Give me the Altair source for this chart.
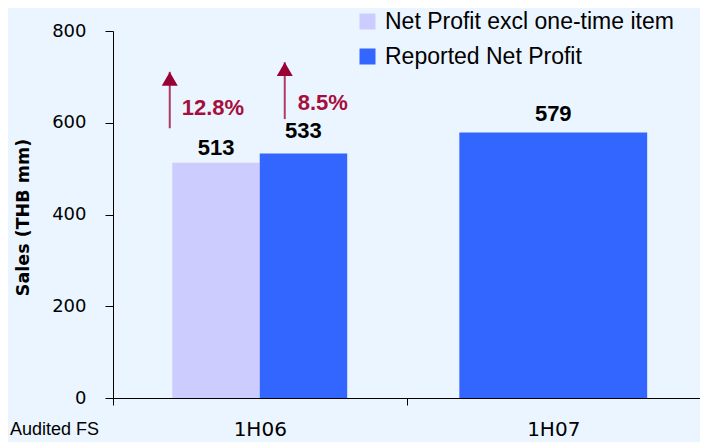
import altair as alt
import pandas as pd

# ---- data ----
periods = ["1H06", "1H06", "1H07"]
series = ["Net Profit excl one-time item", "Reported Net Profit", "Reported Net Profit"]
values = [513, 533, 579]

series_order = ["Net Profit excl one-time item", "Reported Net Profit"]
series_colors = ["#CCCCFF", "#3366FF"]
period_order = ["1H06", "1H07"]

arrow_periods = ["1H06", "1H06"]
arrow_base = [588, 608]
arrow_tip = [711, 732]
arrow_labels = ["12.8%", "8.5%"]

footnote = ["Audited FS"]
y_ticks = [0, 200, 400, 600, 800]

bars = pd.DataFrame({"period": periods, "series": series, "value": values})
arrows = pd.DataFrame({"period": arrow_periods, "base": arrow_base,
                       "tip": arrow_tip, "label": arrow_labels})
notes = pd.DataFrame({"note": footnote})

BG = "#EBF5FF"
RED = "#A50F3C"

x_enc = alt.X("period:N", sort=period_order,
              scale=alt.Scale(domain=period_order, paddingInner=0, paddingOuter=0),
              axis=alt.Axis(title=None, tickBand="extent", tickSize=7, labelPadding=14,
                            labelAngle=0, labelFont="DejaVu Sans", labelFontSize=20,
                            labelColor="black", domainColor="black", tickColor="black",
                            grid=False))
xoff_enc = alt.XOffset("series:N", sort=series_order,
                       scale=alt.Scale(domain=series_order, paddingInner=0, paddingOuter=0.678))
y_scale = alt.Scale(domain=[0, 800], nice=False)
y_enc = alt.Y("value:Q", scale=y_scale,
              axis=alt.Axis(values=y_ticks, tickSize=8, labelPadding=19, grid=False,
                            labelFont="DejaVu Sans", labelFontSize=18, labelColor="black",
                            domainColor="black", tickColor="black",
                            title="Sales (THB mm)", titleFont="DejaVu Sans",
                            titleFontSize=17.5, titleFontWeight="bold", titleColor="black",
                            titleX=-85, titleY=186, titleBaseline="alphabetic"))
color_enc = alt.Color("series:N", sort=series_order,
                      scale=alt.Scale(domain=series_order, range=series_colors),
                      legend=alt.Legend(title=None, orient="none", legendX=243, legendY=-21,
                                        symbolType="square", symbolSize=256,
                                        symbolStrokeWidth=0, labelFont="Liberation Sans",
                                        labelFontSize=23, labelColor="black", labelLimit=0,
                                        labelOffset=6, rowPadding=11, padding=0))

base_bars = alt.Chart(bars)

bars_h1 = base_bars.transform_filter(alt.datum.period == "1H06").mark_bar().encode(
    x=x_enc, xOffset=xoff_enc, y=y_enc, color=color_enc)
bars_h2 = base_bars.transform_filter(alt.datum.period == "1H07").mark_bar(
    width=alt.RelativeBandSize(0.64)).encode(x=x_enc, y=y_enc, color=color_enc)

text_style = dict(font="Liberation Sans", fontSize=22, fontWeight="bold",
                  color="black", baseline="alphabetic", align="center")

t1 = base_bars.transform_filter(
    (alt.datum.period == "1H06") & (alt.datum.series == series_order[0])
).mark_text(dy=-8, **text_style).encode(x=x_enc, xOffset=xoff_enc, y=y_enc, text="value:Q")
t2 = base_bars.transform_filter(
    (alt.datum.period == "1H06") & (alt.datum.series == series_order[1])
).mark_text(dy=-15, **text_style).encode(x=x_enc, xOffset=xoff_enc, y=y_enc, text="value:Q")
t3 = base_bars.transform_filter(alt.datum.period == "1H07").mark_text(
    dy=-11, **text_style).encode(x=x_enc, y=y_enc, text="value:Q")


def arrow_layers(i, shift, label_dx, label_dy):
    a = alt.Chart(arrows).transform_filter(alt.datum.label == arrow_labels[i])
    line = a.mark_rule(color="#B03A62", strokeWidth=2, xOffset=shift).encode(
        x=x_enc, y=alt.Y("base:Q", scale=y_scale), y2=alt.Y2("tip:Q"))
    head = a.mark_point(shape="triangle-up", size=256, filled=True, opacity=1,
                        color="#990033", strokeWidth=0, xOffset=shift, yOffset=7).encode(
        x=x_enc, y=alt.Y("tip:Q", scale=y_scale))
    lab = a.mark_text(font="Liberation Sans", fontSize=22, fontWeight="bold", color=RED,
                      align="left", baseline="alphabetic", xOffset=shift,
                      dx=label_dx, dy=label_dy).encode(
        x=x_enc, y=alt.Y("base:Q", scale=y_scale), text="label:N")
    return [line, head, lab]


arrow1 = arrow_layers(0, -90, 12, -13)
arrow2 = arrow_layers(1, 25, 13, -9)

note = alt.Chart(notes).mark_text(font="Liberation Sans", fontSize=18, color="black",
                                  align="left", baseline="alphabetic").encode(
    x=alt.value(-103), y=alt.value(404), text="note:N")

chart = alt.layer(bars_h1, bars_h2, t1, t2, t3, *arrow1, *arrow2, note).properties(
    width=587, height=367,
    autosize=alt.AutoSizeParams(type="none"),
    padding={"left": 105, "top": 23, "right": 0, "bottom": 44},
    background=BG,
).configure_view(stroke=None, fill=BG)

chart.save("out.html", embed_options={"renderer": "svg", "actions": False})
